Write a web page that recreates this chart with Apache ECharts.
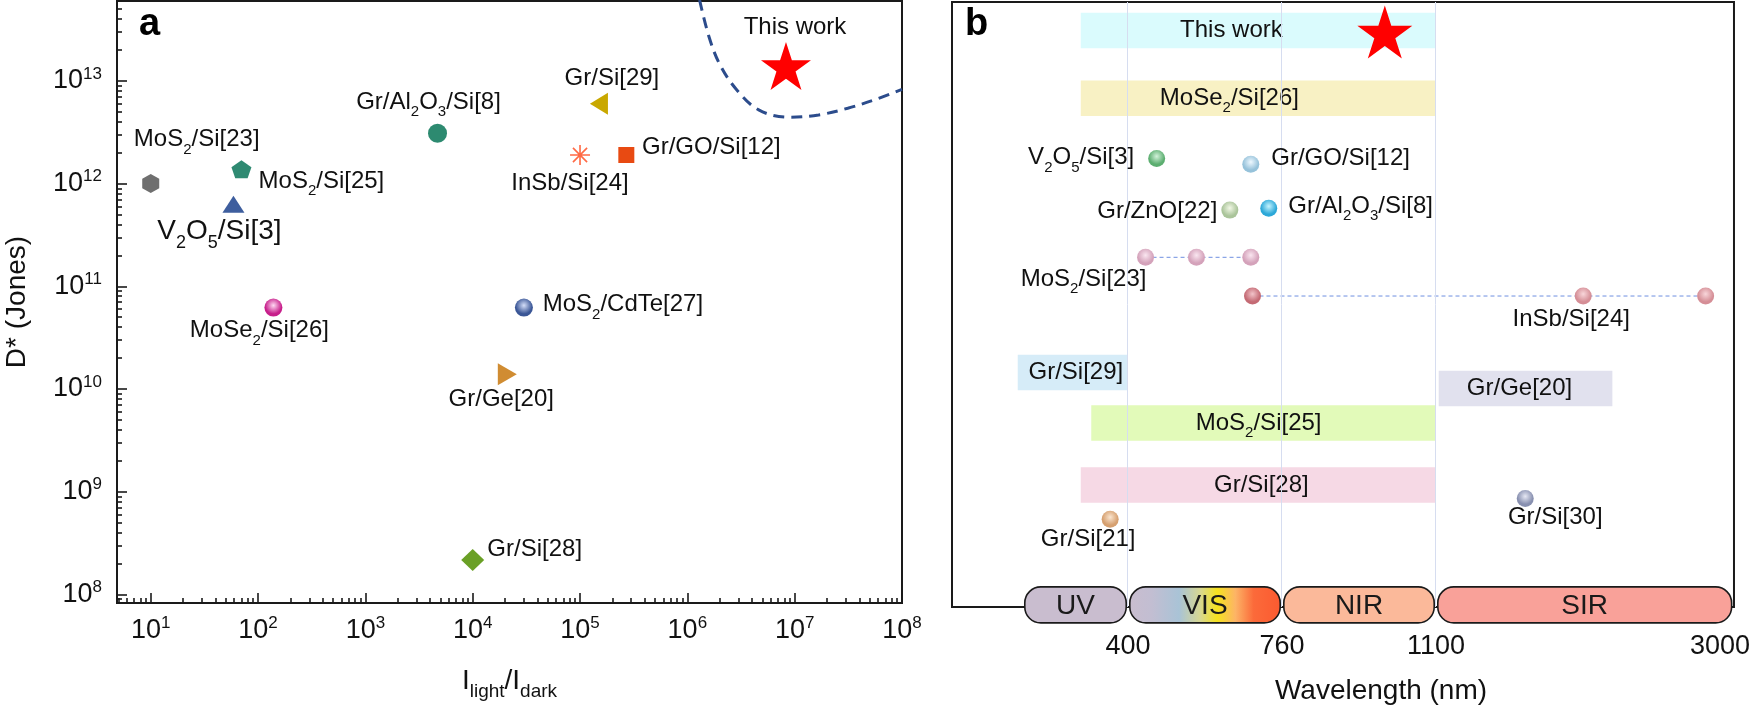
<!DOCTYPE html>
<html><head><meta charset="utf-8">
<script src="https://cdn.jsdelivr.net/npm/echarts@6/dist/echarts.min.js"></script>
<style>html,body{margin:0;padding:0;background:#fff}#c{width:1753px;height:708px}</style>
</head><body><div id="c"></div>
<script>
const FONT = "'Liberation Sans', Arial, Helvetica, sans-serif";
const INK = '#111';

// ---------------- Panel a data ----------------
const aNames = ['MoS2/Si[23]','MoS2/Si[25]','V2O5/Si[3]','Gr/Al2O3/Si[8]','MoSe2/Si[26]','Gr/Si[29]',
                'InSb/Si[24]','Gr/GO/Si[12]','This work','MoS2/CdTe[27]','Gr/Ge[20]','Gr/Si[28]'];
const aRatio  = [10, 70, 59, 4700, 139, 1.5e5, 1e5, 2.7e5, 8.3e6, 3.0e4, 2.1e4, 1e4];
const aDetect = [1e12, 1.38e12, 6.3e11, 3.1e12, 6.2e10, 6.0e12, 1.9e12, 1.9e12, 1.4e13, 6.2e10, 1.39e10, 2.16e8];
const curveRatio  = [1.30e6, 1.58e6, 1.99e6, 2.84e6, 4.62e6, 8.79e6, 1.67e7, 3.12e7, 5.85e7, 1e8];
const curveDetect = [6.15e13, 2.76e13, 1.47e13, 8.36e12, 5.22e12, 4.43e12, 4.67e12, 5.42e12, 6.68e12, 8.3e12];
const aXMajor = [10, 100, 1e3, 1e4, 1e5, 1e6, 1e7, 1e8];
const aYMajor = [1e8, 1e9, 1e10, 1e11, 1e12, 1e13];
const aXRange = [4.85, 1e8];
const aYRange = [8.22e7, 6.01e13];

// ---------------- Panel b data ----------------
const bBarNames = ['This work','MoSe2/Si[26]','Gr/Si[29]','Gr/Ge[20]','MoS2/Si[25]','Gr/Si[28]'];
const bBarStart = [310, 310, 190, 1118, 330, 310];
const bBarEnd   = [1100, 1100, 400, 2280, 1100, 1100];
const bBarRow   = [0.94, 3.18, 12.25, 12.78, 13.92, 15.97];
const bDotNames = ['V2O5/Si[3]','Gr/GO/Si[12]','Gr/ZnO[22]','Gr/Al2O3/Si[8]','Gr/Si[21]','Gr/Si[30]'];
const bDotWl    = [467, 687, 638, 729, 366, 1697];
const bDotRow   = [5.17, 5.36, 6.88, 6.82, 17.10, 16.41];
const mos2Wl = [441, 560, 687];   const mos2Row = 8.44;
const insbWl = [691, 2085, 2904]; const insbRow = 9.72;
const starWl = 987; const starRow = 0.99;
const bandNames = ['UV','VIS','NIR','SIR'];
const bandStart = [200, 400, 760, 1100];
const bandEnd   = [400, 760, 1100, 3090];
const bandRow = 19.93;
const wlTicks = [400, 760, 1100, 3000];

// piecewise (schematic) wavelength axis
const WL_STOPS = [200, 400, 760, 1100, 3000];
const AX_STOPS = [0.461, 1.143, 2.143, 3.143, 4.987];
function wl2x(w) {
  let i = 0;
  if (w >= WL_STOPS[WL_STOPS.length - 1]) i = WL_STOPS.length - 2;
  else if (w > WL_STOPS[0]) { while (w > WL_STOPS[i + 1]) i++; }
  const t = (w - WL_STOPS[i]) / (WL_STOPS[i + 1] - WL_STOPS[i]);
  return AX_STOPS[i] + t * (AX_STOPS[i + 1] - AX_STOPS[i]);
}

// ---------------- helpers ----------------
function minorTicks(lo, hi) {
  const out = [];
  for (let e = Math.floor(Math.log10(lo)); e <= Math.ceil(Math.log10(hi)); e++)
    for (let m = 2; m <= 9; m++) { const v = m * Math.pow(10, e); if (v > lo * 1.001 && v < hi * 0.999) out.push(v); }
  return out;
}
function toRich(t) { return t.replace(/([A-Za-z])(\d)/g, '$1{s|$2}'); }
function subRich(fs) {
  const f = Math.round(fs * 0.64);
  return { s: { fontSize: f, lineHeight: f, padding: [Math.round(fs * 0.84), 0, 0, 0], fontFamily: FONT, color: INK } };
}
function sphere(hi, base) {
  return { type: 'radial', x: 0.5, y: 0.38, r: 0.62,
    colorStops: [{ offset: 0, color: hi }, { offset: 0.75, color: base }, { offset: 1, color: base }] };
}
const HEX  = 'path://M0,-1L0.866,-0.5L0.866,0.5L0,1L-0.866,0.5L-0.866,-0.5Z';
const PENT = 'path://M0,-1L0.951,-0.309L0.588,0.809L-0.588,0.809L-0.951,-0.309Z';
const STAR = 'path://M0,-1L0.2245,-0.309L0.951,-0.309L0.363,0.118L0.588,0.809L0,0.382L-0.588,0.809L-0.363,0.118L-0.951,-0.309L-0.2245,-0.309Z';
const AST  = 'path://M-1,0L1,0M0,-1L0,1M-0.707,-0.707L0.707,0.707M-0.707,0.707L0.707,-0.707';

const aLook = {
  'MoS2/Si[23]':    { sym: HEX, size: [17, 19], color: '#6f6f6f', off: [46, -44] },
  'MoS2/Si[25]':    { sym: PENT, size: [20, 18], color: '#2f8a72', off: [80, 12] },
  'V2O5/Si[3]':     { sym: 'triangle', size: [22, 17], color: '#3e5e9e', off: [-14, 27], fs: 28 },
  'Gr/Al2O3/Si[8]': { sym: 'circle', size: 19, color: '#2d8a70', off: [-9, -31] },
  'MoSe2/Si[26]':   { sym: 'circle', size: 18, color: sphere('#ffd8f2', '#c71f8b'), off: [-14, 23] },
  'Gr/Si[29]':      { sym: 'triangle', rot: 90, size: [22, 18], color: '#c9a800', off: [13, -25] },
  'InSb/Si[24]':    { sym: AST, size: 20, color: 'rgba(0,0,0,0)', stroke: '#ff6a45', off: [-10, 28] },
  'Gr/GO/Si[12]':   { sym: 'rect', size: 16, color: '#e84a12', off: [85, -8] },
  'This work':      { sym: STAR, size: [50, 48], color: '#ff0000', off: [9, -39] },
  'MoS2/CdTe[27]':  { sym: 'circle', size: 18, color: sphere('#d4def8', '#3a5696'), off: [99, -3] },
  'Gr/Ge[20]':      { sym: 'triangle', rot: -90, size: [22, 19], color: '#d08c32', off: [-6, 25] },
  'Gr/Si[28]':      { sym: 'diamond', size: [23, 22], color: '#6aa026', off: [62, -11] }
};

function textLabel(name, fs, extra) {
  return Object.assign({
    show: true, formatter: toRich(name), fontSize: fs, lineHeight: fs, fontFamily: FONT, color: INK,
    textBorderWidth: 0, opacity: 1, rich: subRich(fs)
  }, extra);
}

const aData = aNames.map((n, i) => {
  const L = aLook[n];
  const fs = L.fs || 24;
  return {
    name: n, value: [aRatio[i], aDetect[i]],
    symbol: L.sym, symbolSize: L.size, symbolRotate: L.rot || 0,
    itemStyle: L.stroke ? { color: L.color, borderColor: L.stroke, borderWidth: 1.6, opacity: 1 } : { color: L.color, opacity: 1 },
    label: textLabel(n, fs, { position: ['50%', '50%'], align: 'center', verticalAlign: 'middle', offset: L.off })
  };
});

const tickRich = {
  b: { fontSize: 27, lineHeight: 27, fontFamily: FONT, color: INK },
  sup: { fontSize: 17, lineHeight: 17, padding: [0, 0, 14, 0], fontFamily: FONT, color: INK }
};
const powLabel = v => '{b|10}{sup|' + Math.round(Math.log10(v)) + '}';
const axisInk = { color: '#1a1a1a', width: 1.6 };

// ---------------- Panel b pieces ----------------
const bLook = {
  'V2O5/Si[3]':     { c: sphere('#d2f2da', '#5cae70'), lab: { position: 'left', distance: 14, offset: [0, -1] } },
  'Gr/GO/Si[12]':   { c: sphere('#eef8ff', '#96c2da'), lab: { position: 'right', distance: 12, offset: [0, -6] } },
  'Gr/ZnO[22]':     { c: sphere('#f2f8e6', '#aac49a'), lab: { position: 'left', distance: 4, offset: [0, 1] } },
  'Gr/Al2O3/Si[8]': { c: sphere('#c4f4ff', '#2ca8d8'), lab: { position: 'right', distance: 11, offset: [0, -2] } },
  'Gr/Si[21]':      { c: sphere('#fbe6d0', '#d6a070'), lab: { position: ['50%', '50%'], align: 'center', verticalAlign: 'middle', offset: [-22, 20] } },
  'Gr/Si[30]':      { c: sphere('#e6e8f4', '#8890b0'), lab: { position: ['50%', '50%'], align: 'center', verticalAlign: 'middle', offset: [30, 19] } }
};
const barColors = { 'This work': '#dafbfd', 'MoSe2/Si[26]': '#f8f1c4', 'Gr/Si[29]': '#d6ecf8',
  'Gr/Ge[20]': '#e1e1ee', 'MoS2/Si[25]': '#e2fab9', 'Gr/Si[28]': '#f6d9e5' };
const barLabelDx = { 'This work': -27, 'MoSe2/Si[26]': -29, 'Gr/Si[29]': 3, 'Gr/Ge[20]': -6, 'MoS2/Si[25]': -5, 'Gr/Si[28]': 3 };
const bandFill = {
  UV: '#c9bdcf',
  VIS: { type: 'linear', x: 0, y: 0, x2: 1, y2: 0, colorStops: [
    { offset: 0, color: '#c9bdcf' }, { offset: 0.15, color: '#c2bed2' }, { offset: 0.33, color: '#a9c3d6' },
    { offset: 0.47, color: '#d8d890' }, { offset: 0.58, color: '#f6e21e' }, { offset: 0.7, color: '#fdb466' },
    { offset: 0.82, color: '#fb6a3a' }, { offset: 1, color: '#fb5a30' }] },
  NIR: '#fbb99a', SIR: '#f9a199'
};

const dotData = bDotNames.map((n, i) => ({
  name: n, value: [wl2x(bDotWl[i]), bDotRow[i]],
  itemStyle: { color: bLook[n].c, opacity: 1 },
  label: textLabel(n, 24, bLook[n].lab)
}));
const mosData = mos2Wl.map((w, i) => ({
  value: [wl2x(w), mos2Row], itemStyle: { color: sphere('#fae6f0', '#d4a2ba'), opacity: 1 },
  label: i === 0 ? textLabel('MoS2/Si[23]', 24, { position: ['50%', '50%'], align: 'center', verticalAlign: 'middle', offset: [-62, 22] }) : { show: false }
}));
const insbData = insbWl.map((w, i) => ({
  value: [wl2x(w), insbRow], itemStyle: { color: i === 0 ? sphere('#f2c4ca', '#c46a74') : sphere('#f8d6da', '#d58e96'), opacity: 1 },
  label: i === 1 ? textLabel('InSb/Si[24]', 24, { position: ['50%', '50%'], align: 'center', verticalAlign: 'middle', offset: [-12, 23] }) : { show: false }
}));

const option = {
  animation: false,
  backgroundColor: '#fff',
  grid: [
    { left: 117, right: 851, top: 1, bottom: 105, show: true, borderColor: '#1a1a1a', borderWidth: 2, backgroundColor: 'transparent' },
    { left: 952, right: 19, top: 2, bottom: 101, show: true, borderColor: '#1a1a1a', borderWidth: 2, backgroundColor: 'transparent' }
  ],
  xAxis: [
    { type: 'log', gridIndex: 0, min: aXRange[0], max: aXRange[1], position: 'bottom',
      axisLine: { show: true, lineStyle: { color: '#1a1a1a', width: 2 } },
      axisTick: { show: true, inside: true, length: 10, customValues: aXMajor, lineStyle: axisInk },
      axisLabel: { show: true, customValues: aXMajor, formatter: powLabel, rich: tickRich, margin: 14 },
      splitLine: { show: false },
      name: '{m|I}{s|light}{m|/I}{s|dark}', nameLocation: 'middle', nameGap: 64,
      nameTextStyle: { rich: { m: { fontSize: 28, lineHeight: 28, fontFamily: FONT, color: INK },
                               s: { fontSize: 19, lineHeight: 19, padding: [22, 0, 0, 0], fontFamily: FONT, color: INK } } } },
    { type: 'log', gridIndex: 0, min: aXRange[0], max: aXRange[1], position: 'bottom',
      axisLine: { show: false }, axisLabel: { show: false }, splitLine: { show: false },
      axisTick: { show: true, inside: true, length: 5, customValues: minorTicks(aXRange[0], aXRange[1]), lineStyle: axisInk } },
    { type: 'value', gridIndex: 1, min: 0, max: 5.078,
      axisLine: { show: false }, axisTick: { show: false }, splitLine: { show: false },
      axisLabel: { show: true, customValues: wlTicks.map(wl2x), margin: 26, fontSize: 27, lineHeight: 27, fontFamily: FONT, color: INK,
        formatter: v => { let best = wlTicks[0]; wlTicks.forEach(w => { if (Math.abs(wl2x(w) - v) < Math.abs(wl2x(best) - v)) best = w; }); return String(best); } } }
  ],
  yAxis: [
    { type: 'log', gridIndex: 0, min: aYRange[0], max: aYRange[1], position: 'left',
      axisLine: { show: true, lineStyle: { color: '#1a1a1a', width: 2 } },
      axisTick: { show: true, inside: true, length: 10, customValues: aYMajor, lineStyle: axisInk },
      axisLabel: { show: true, customValues: aYMajor, formatter: powLabel, rich: tickRich, margin: 15 },
      splitLine: { show: false },
      name: 'D* (Jones)', nameLocation: 'middle', nameGap: 86,
      nameTextStyle: { fontSize: 28, lineHeight: 28, fontFamily: FONT, color: INK } },
    { type: 'log', gridIndex: 0, min: aYRange[0], max: aYRange[1], position: 'left',
      axisLine: { show: false }, axisLabel: { show: false }, splitLine: { show: false },
      axisTick: { show: true, inside: true, length: 5, customValues: minorTicks(aYRange[0], aYRange[1]), lineStyle: axisInk } },
    { type: 'value', gridIndex: 1, min: 0, max: 20, inverse: true, show: false }
  ],
  graphic: [
    { type: 'text', x: 139, y: 25, style: { text: 'a', font: 'bold 38px ' + FONT, fill: '#000', align: 'left', verticalAlign: 'middle' } },
    { type: 'text', x: 965, y: 25, style: { text: 'b', font: 'bold 38px ' + FONT, fill: '#000', align: 'left', verticalAlign: 'middle' } },
    { type: 'text', x: 1381, y: 691, style: { text: 'Wavelength (nm)', font: '28px ' + FONT, fill: INK, align: 'center', verticalAlign: 'middle' } }
  ],
  series: [
    // ---- panel a ----
    { type: 'line', xAxisIndex: 0, yAxisIndex: 0, z: 3, smooth: 0.35, symbol: 'none', silent: true,
      data: curveRatio.map((x, i) => [x, curveDetect[i]]),
      lineStyle: { color: '#2c4c8c', width: 3, type: [11, 7] } },
    { type: 'scatter', xAxisIndex: 0, yAxisIndex: 0, z: 5, itemStyle: { opacity: 1 }, data: aData },
    // ---- panel b ----
    { type: 'custom', xAxisIndex: 2, yAxisIndex: 2, z: 2,
      data: bBarNames.map((n, i) => [wl2x(bBarStart[i]), wl2x(bBarEnd[i]), bBarRow[i], n]),
      renderItem: (params, api) => {
        const n = bBarNames[params.dataIndex];
        const s = api.coord([api.value(0), api.value(2)]);
        const e = api.coord([api.value(1), api.value(2)]);
        const h = 35.5;
        return { type: 'group', children: [
          { type: 'rect', shape: { x: s[0], y: s[1] - h / 2, width: e[0] - s[0], height: h }, style: { fill: barColors[n] } },
          { type: 'text', x: (s[0] + e[0]) / 2 + barLabelDx[n], y: s[1],
            style: { text: toRich(n), fontSize: 24, lineHeight: 24, fontFamily: FONT, fill: INK, align: 'center', verticalAlign: 'middle',
                     rich: { s: { fontSize: 15, lineHeight: 15, padding: [20, 0, 0, 0], fontFamily: FONT, fill: INK } } } }
        ] };
      },
      markLine: { silent: true, symbol: 'none', animation: false, label: { show: false },
        lineStyle: { color: '#d6ddf0', width: 1, type: 'solid' },
        data: [{ xAxis: wl2x(400) }, { xAxis: wl2x(760) }, { xAxis: wl2x(1100) }] } },
    { type: 'line', xAxisIndex: 2, yAxisIndex: 2, z: 3, symbol: 'none', silent: true,
      data: mos2Wl.map(w => [wl2x(w), mos2Row]), lineStyle: { color: '#6f8fe0', width: 1, type: [4, 3] } },
    { type: 'line', xAxisIndex: 2, yAxisIndex: 2, z: 3, symbol: 'none', silent: true,
      data: insbWl.map(w => [wl2x(w), insbRow]), lineStyle: { color: '#6f8fe0', width: 1, type: [4, 3] } },
    { type: 'scatter', xAxisIndex: 2, yAxisIndex: 2, z: 5, symbolSize: 17, itemStyle: { opacity: 1 }, data: dotData.concat(mosData, insbData) },
    { type: 'scatter', xAxisIndex: 2, yAxisIndex: 2, z: 6, symbol: STAR, symbolSize: [55, 53],
      itemStyle: { color: '#ff0000', opacity: 1 }, data: [[wl2x(starWl), starRow]] },
    { type: 'custom', xAxisIndex: 2, yAxisIndex: 2, z: 7,
      data: bandNames.map((n, i) => [wl2x(bandStart[i]), wl2x(bandEnd[i]), bandRow, n]),
      renderItem: (params, api) => {
        const n = bandNames[params.dataIndex];
        const s = api.coord([api.value(0), api.value(2)]);
        const e = api.coord([api.value(1), api.value(2)]);
        const h = 36, g = 1.8;
        const x0 = s[0] + g, x1 = e[0] - g;
        return { type: 'group', children: [
          { type: 'rect', shape: { x: x0, y: s[1] - h / 2, width: x1 - x0, height: h, r: 16 },
            style: { fill: bandFill[n], stroke: '#1a1a1a', lineWidth: 1.6 } },
          { type: 'text', x: (x0 + x1) / 2, y: s[1] + 1,
            style: { text: n, fontSize: 28, fontFamily: FONT, fill: '#1a1a1a', align: 'center', verticalAlign: 'middle' } }
        ] };
      } }
  ]
};

const chart = echarts.init(document.getElementById('c'), null, { renderer: 'canvas', width: 1753, height: 708 });
chart.setOption(option);
</script>
</body></html>
